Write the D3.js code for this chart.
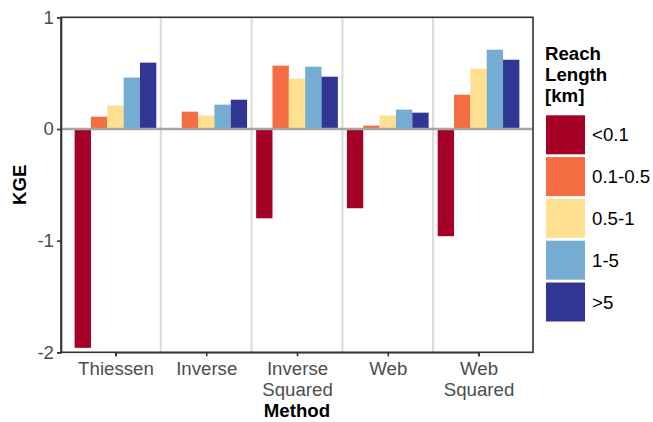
<!DOCTYPE html>
<html>
<head>
<meta charset="utf-8">
<script src="https://cdn.jsdelivr.net/npm/d3@7"></script>
<style>
  html, body { margin: 0; padding: 0; background: #fff; }
  svg { display: block; font-family: "Liberation Sans", Arial, sans-serif; }
</style>
</head>
<body>
<svg id="chart" width="653" height="422"></svg>
<script>
// Interpolation methods on the x axis
const methods = ["Thiessen", "Inverse", "Inverse Squared", "Web", "Web Squared"];
// Reach length classes (legend order)
const reachClasses = ["<0.1", "0.1-0.5", "0.5-1", "1-5", ">5"];
const classColors = ["#a50026", "#f46d43", "#fee090", "#74add1", "#313695"];
// KGE per method, one array per reach class
const kgeLt01   = [-1.96, 0.00, -0.80, -0.71, -0.96];
const kge01to05 = [0.11, 0.155, 0.567, 0.03, 0.307];
const kge05to1  = [0.21, 0.12, 0.45, 0.12, 0.54];
const kge1to5   = [0.46, 0.218, 0.558, 0.173, 0.71];
const kgeGt5    = [0.594, 0.262, 0.468, 0.146, 0.62];
const yTicks = [-2, -1, 0, 1];
const yTickLabels = ["-2", "-1", "0", "1"];

const seriesValues = [kgeLt01, kge01to05, kge05to1, kge1to5, kgeGt5];
const rows = [];
methods.forEach((m, i) => {
  reachClasses.forEach((c, j) => rows.push({ method: m, cls: c, value: seriesValues[j][i] }));
});

const svg = d3.select("#chart");
const panel = { left: 61, top: 17.3, right: 533, bottom: 352.3 };
const fontSize = 18.67;

// ggplot-like discrete expansion of 0.6 units on each side
const nCat = methods.length;
const unit = (panel.right - panel.left) / (nCat + 0.2);
const x = d3.scalePoint().domain(methods)
  .range([panel.left + 0.6 * unit, panel.right - 0.6 * unit]);
const xInner = d3.scaleBand().domain(reachClasses)
  .range([-0.45 * unit, 0.45 * unit]).padding(0);
const y = d3.scaleLinear().domain([-2, 1]).range([panel.bottom, panel.top]);
const color = d3.scaleOrdinal().domain(reachClasses).range(classColors);

// separators between methods
const seps = methods.slice(1).map((m, i) => (x(methods[i]) + x(m)) / 2);
svg.append("g").selectAll("line").data(seps).join("line")
  .attr("x1", d => d).attr("x2", d => d)
  .attr("y1", panel.top).attr("y2", panel.bottom)
  .attr("stroke", "#dcdcdc").attr("stroke-width", 2.2);

// bars
svg.append("g").selectAll("rect").data(rows).join("rect")
  .attr("x", d => x(d.method) + xInner(d.cls))
  .attr("width", xInner.bandwidth())
  .attr("y", d => y(Math.max(0, d.value)))
  .attr("height", d => Math.abs(y(d.value) - y(0)))
  .attr("fill", d => color(d.cls));

// zero reference line
svg.append("line")
  .attr("x1", panel.left).attr("x2", panel.right)
  .attr("y1", y(0)).attr("y2", y(0))
  .attr("stroke", "#a6a6a6").attr("stroke-width", 2.5);

// panel border
svg.append("rect")
  .attr("x", panel.left).attr("y", panel.top)
  .attr("width", panel.right - panel.left).attr("height", panel.bottom - panel.top)
  .attr("fill", "none").attr("stroke", "#333").attr("stroke-width", 1.6);

// y axis
const yAxis = d3.axisLeft(y).tickValues(yTicks).tickSize(4).tickPadding(3)
  .tickFormat((d, i) => yTickLabels[i]);
const gy = svg.append("g").attr("transform", `translate(${panel.left},0)`).call(yAxis);
gy.select(".domain").attr("stroke", "#333").attr("stroke-width", 1.6);
gy.selectAll(".tick line").attr("stroke", "#333").attr("stroke-width", 1.6);
gy.selectAll(".tick text").attr("fill", "#4d4d4d").attr("font-size", fontSize)
  .attr("font-family", "Liberation Sans, Arial, sans-serif");

// x axis
const xAxis = d3.axisBottom(x).tickSize(4).tickPadding(4);
const gx = svg.append("g").attr("transform", `translate(0,${panel.bottom})`).call(xAxis);
gx.select(".domain").attr("stroke", "#333").attr("stroke-width", 1.6);
gx.selectAll(".tick line").attr("stroke", "#333").attr("stroke-width", 1.6);
gx.selectAll(".tick text").attr("fill", "#4d4d4d").attr("font-size", fontSize)
  .attr("font-family", "Liberation Sans, Arial, sans-serif")
  .each(function (d) {
    const t = d3.select(this);
    const words = d.split(" ");
    t.text(null).attr("y", 0).attr("dy", null);
    words.forEach((w, k) => {
      t.append("tspan").attr("x", 0).attr("y", 22.7 + k * 20.7).text(w);
    });
  });

// axis titles
svg.append("text")
  .attr("x", (panel.left + panel.right) / 2).attr("y", 417)
  .attr("text-anchor", "middle").attr("font-weight", "bold")
  .attr("font-size", fontSize).attr("fill", "#000").text("Method");
svg.append("text")
  .attr("transform", `translate(26,${(panel.top + panel.bottom) / 2}) rotate(-90)`)
  .attr("text-anchor", "middle").attr("font-weight", "bold")
  .attr("font-size", fontSize).attr("fill", "#000").text("KGE");

// legend
const lg = svg.append("g").attr("transform", "translate(545,0)");
["Reach", "Length", "[km]"].forEach((w, k) => {
  lg.append("text").attr("x", 0).attr("y", 60 + k * 20.8)
    .attr("font-weight", "bold").attr("font-size", fontSize).attr("fill", "#000").text(w);
});
const keys = lg.selectAll("g.key").data(reachClasses).join("g")
  .attr("class", "key")
  .attr("transform", (d, i) => `translate(1,${115.3 + i * 41.8})`);
keys.append("rect").attr("width", 39).attr("height", 39).attr("fill", d => color(d));
keys.append("text").attr("x", 46).attr("y", 19.5).attr("dy", "0.35em")
  .attr("font-size", fontSize).attr("fill", "#000").text(d => d);
</script>
</body>
</html>
